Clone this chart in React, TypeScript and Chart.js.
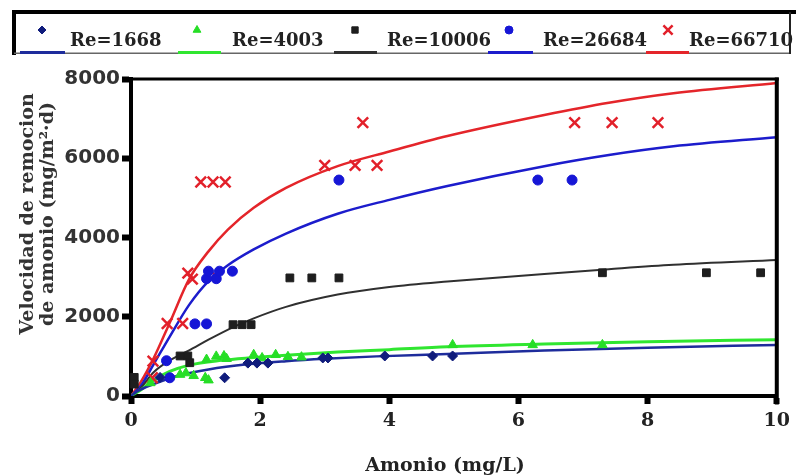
import React, { useEffect, useRef } from 'react';
import { Chart, registerables } from 'chart.js';
import { drawPoint } from 'chart.js/helpers';

Chart.register(...registerables);

// Runs, by Reynolds number
const seriesNames = ['Re=1668', 'Re=4003', 'Re=10006', 'Re=26684', 'Re=66710'];

// Measured ammonium removal rate (mg/m²·d) against ammonium concentration (mg/L)
const re1668X = [0.45, 1.45, 1.81, 1.95, 2.12, 2.97, 3.05, 3.93, 4.67, 4.98];
const re1668Y = [470, 460, 830, 830, 830, 960, 960, 1010, 1010, 1010];

const re4003X = [0.3, 0.76, 0.85, 0.97, 1.15, 1.2, 1.17, 1.32, 1.44, 1.48, 1.9, 2.03, 2.24, 2.43, 2.64, 4.98, 6.22, 7.3];
const re4003Y = [330, 540, 580, 510, 460, 400, 920, 1000, 1010, 940, 1040, 960, 1040, 990, 980, 1290, 1290, 1290];

const re10006X = [0.05, 0.05, 0.76, 0.88, 0.91, 1.58, 1.72, 1.86, 2.46, 2.8, 3.22, 7.3, 8.91, 9.75];
const re10006Y = [470, 300, 1010, 1010, 840, 1800, 1800, 1800, 2980, 2980, 2980, 3110, 3110, 3110];

const re26684X = [0.55, 0.6, 0.99, 1.17, 1.17, 1.32, 1.2, 1.37, 1.57, 3.22, 6.3, 6.83];
const re26684Y = [890, 460, 1820, 1820, 2960, 2960, 3150, 3150, 3150, 5450, 5450, 5450];

const re66710X = [0.33, 0.34, 0.56, 0.8, 0.88, 0.95, 1.3, 1.08, 1.27, 1.46, 3.0, 3.47, 3.81, 3.59, 6.87, 7.45, 8.16];
const re66710Y = [460, 880, 1830, 1830, 3100, 2950, 3050, 5400, 5400, 5400, 5820, 5820, 5820, 6900, 6900, 6900, 6900];

// Fitted kinetic curves, one per run
const fit1668X = [0, 0.1, 0.35, 0.7, 1.2, 1.8, 2.4, 3, 3.8, 4.9, 6.4, 8, 10];
const fit1668Y = [0, 120, 300, 500, 670, 800, 880, 940, 1000, 1060, 1150, 1220, 1290];

const fit4003X = [0, 0.15, 0.35, 0.6, 0.9, 1.4, 1.9, 2.4, 3.2, 4, 4.9, 6.4, 8, 10];
const fit4003Y = [0, 150, 400, 620, 780, 900, 970, 1030, 1110, 1170, 1240, 1310, 1370, 1420];

const fit10006X = [0, 0.15, 0.35, 0.6, 0.9, 1.2, 1.6, 1.9, 2.4, 3.2, 4, 4.9, 6.4, 7.4, 8.4, 10];
const fit10006Y = [0, 200, 600, 900, 1150, 1420, 1750, 1960, 2250, 2560, 2750, 2890, 3080, 3200, 3310, 3430];

const fit26684X = [0, 0.15, 0.35, 0.6, 0.9, 1.2, 1.5, 1.9, 2.4, 3.2, 4, 4.9, 6.4, 7.4, 8.4, 10];
const fit26684Y = [0, 250, 800, 1500, 2300, 2900, 3300, 3700, 4100, 4600, 4950, 5300, 5800, 6080, 6300, 6530];

const fit66710X = [0, 0.15, 0.35, 0.6, 0.9, 1.2, 1.5, 1.9, 2.4, 3.2, 4, 4.9, 6.4, 7.4, 8.4, 10];
const fit66710Y = [0, 350, 950, 1850, 2950, 3650, 4200, 4750, 5250, 5800, 6170, 6560, 7090, 7400, 7640, 7900];

// Axis ticks
const xTicks = [0, 2, 4, 6, 8, 10];
const yTicks = [0, 2000, 4000, 6000, 8000];

const xTitle = 'Amonio (mg/L)';
const yTitle = ['Velocidad de remocion', 'de amonio (mg/m²·d)'];

const pointsX = [re1668X, re4003X, re10006X, re26684X, re66710X];
const pointsY = [re1668Y, re4003Y, re10006Y, re26684Y, re66710Y];
const curvesX = [fit1668X, fit4003X, fit10006X, fit26684X, fit66710X];
const curvesY = [fit1668Y, fit4003Y, fit10006Y, fit26684Y, fit66710Y];

type Style = {
  pointStyle: string;
  radius: number;
  marker: string;
  line: string;
  borderWidth: number;
  lineWidth: number;
};

const styles: Style[] = [
  { pointStyle: 'rectRot', radius: 5, marker: '#101c7c', line: '#1e2c9c', borderWidth: 1, lineWidth: 2.5 },
  { pointStyle: 'triangle', radius: 5.5, marker: '#26de26', line: '#30e630', borderWidth: 1, lineWidth: 3 },
  { pointStyle: 'rect', radius: 5.5, marker: '#1e1e1e', line: '#303030', borderWidth: 1, lineWidth: 2 },
  { pointStyle: 'circle', radius: 5, marker: '#1616d6', line: '#1c1ccc', borderWidth: 1, lineWidth: 2.5 },
  { pointStyle: 'crossRot', radius: 7.5, marker: '#e2202a', line: '#e4252a', borderWidth: 2.5, lineWidth: 2.5 },
];

// Legend slot geometry: marker centre, text start, sample line span
const legendSlots = [
  { marker: 42, text: 70, line: [20, 65] },
  { marker: 197, text: 232, line: [178, 221] },
  { marker: 355, text: 387, line: [334, 377] },
  { marker: 509, text: 543, line: [488, 533] },
  { marker: 668, text: 689, line: [646, 689] },
];

const zip = (xs: number[], ys: number[]) => xs.map((x, i) => ({ x, y: ys[i] }));

const serif = '"DejaVu Serif", "Liberation Serif", serif';
const sans = '"DejaVu Sans", "Liberation Sans", sans-serif';

const decorations = {
  id: 'decorations',
  beforeDraw(chart: any) {
    const { ctx, width, height } = chart;
    ctx.save();
    ctx.fillStyle = '#ffffff';
    ctx.fillRect(0, 0, width, height);
    ctx.restore();
  },
  afterDraw(chart: any) {
    const { ctx, chartArea } = chart;
    ctx.save();

    // closing frame: top and right edges
    ctx.fillStyle = '#000';
    ctx.fillRect(chartArea.left - 2, chartArea.top - 1.5, chartArea.right - chartArea.left + 4, 3);
    ctx.fillRect(chartArea.right - 2, chartArea.top - 1.5, 4, chartArea.bottom - chartArea.top + 10);

    // legend box
    ctx.fillStyle = '#000';
    ctx.fillRect(12, 10, 796 - 12, 4);
    ctx.fillRect(12, 10, 4, 45);
    ctx.fillStyle = '#666';
    ctx.fillRect(14, 52.5, 777, 1.5);
    ctx.fillStyle = '#222';
    ctx.fillRect(789, 12, 2, 42);

    seriesNames.forEach((name, i) => {
      const s = styles[i];
      const slot = legendSlots[i];
      ctx.strokeStyle = s.line;
      ctx.lineWidth = 3;
      ctx.beginPath();
      ctx.moveTo(slot.line[0], 52.5);
      ctx.lineTo(slot.line[1], 52.5);
      ctx.stroke();

      ctx.fillStyle = s.marker;
      ctx.strokeStyle = s.marker;
      ctx.lineWidth = s.borderWidth;
      drawPoint(ctx, { pointStyle: s.pointStyle, radius: s.radius - 1, rotation: 0, borderWidth: s.borderWidth } as any, slot.marker, 30);

      ctx.fillStyle = '#222';
      ctx.font = `bold 18px ${serif}`;
      ctx.textAlign = 'left';
      ctx.textBaseline = 'alphabetic';
      ctx.fillText(name, slot.text, 46);
    });

    // axis titles
    ctx.fillStyle = '#333';
    ctx.font = `bold 19px ${serif}`;
    ctx.textAlign = 'center';
    ctx.textBaseline = 'middle';
    ctx.save();
    ctx.translate(28, 214);
    ctx.rotate(-Math.PI / 2);
    ctx.fillText(yTitle[0], 0, 0);
    ctx.fillText(yTitle[1], 0, 20);
    ctx.restore();

    ctx.fillStyle = '#222';
    ctx.fillText(xTitle, 445, 466);
    ctx.restore();
  },
};

export default function App() {
  const canvasRef = useRef<HTMLCanvasElement | null>(null);

  useEffect(() => {
    const canvas = canvasRef.current;
    if (!canvas) return;

    const curveSets = curvesX.map((xs, i) => ({
      label: seriesNames[i] + ' ajuste',
      data: zip(xs, curvesY[i]),
      showLine: true,
      borderColor: styles[i].line,
      borderWidth: styles[i].lineWidth,
      pointRadius: 0,
      pointHoverRadius: 0,
      tension: 0.4,
      cubicInterpolationMode: 'monotone',
      fill: false,
      order: 1,
    }));

    const pointSets = pointsX.map((xs, i) => ({
      label: seriesNames[i],
      data: zip(xs, pointsY[i]),
      showLine: false,
      pointStyle: styles[i].pointStyle,
      pointRadius: styles[i].radius,
      pointBackgroundColor: styles[i].marker,
      pointBorderColor: styles[i].marker,
      pointBorderWidth: styles[i].borderWidth,
      clip: false,
      order: 0,
    }));

    const chart = new Chart(canvas, {
      type: 'scatter',
      data: { datasets: [...pointSets, ...curveSets] as any },
      plugins: [decorations],
      options: {
        animation: false,
        responsive: false,
        devicePixelRatio: 1,
        layout: { padding: { top: 79, right: 19, left: 0, bottom: 0 } },
        plugins: {
          legend: { display: false },
          title: { display: false },
          tooltip: { enabled: false },
        },
        scales: {
          x: {
            type: 'linear',
            min: 0,
            max: 10,
            afterBuildTicks: (scale: any) => {
              scale.ticks = xTicks.map((v) => ({ value: v }));
            },
            afterFit: (scale: any) => {
              scale.height = 79;
            },
            grid: {
              drawOnChartArea: false,
              drawTicks: true,
              tickLength: 8,
              tickWidth: 6,
              color: '#000',
            },
            border: { display: true, color: '#000', width: 4 },
            ticks: {
              padding: 6,
              color: '#222',
              maxRotation: 0,
              callback: (v: any) => String(v),
              font: { family: serif, size: 19, weight: 'bold' },
            },
          },
          y: {
            type: 'linear',
            min: 0,
            max: 8000,
            afterBuildTicks: (scale: any) => {
              scale.ticks = yTicks.map((v) => ({ value: v }));
            },
            afterFit: (scale: any) => {
              scale.width = 131;
            },
            grid: {
              drawOnChartArea: false,
              drawTicks: true,
              tickLength: 9,
              tickWidth: 6,
              color: '#000',
            },
            border: { display: true, color: '#000', width: 4 },
            ticks: {
              padding: 2,
              color: '#333',
              callback: (v: any) => String(v),
              font: { family: sans, size: 20, weight: 'bold' },
            },
          },
        },
      } as any,
    });

    return () => chart.destroy();
  }, []);

  return (
    <div style={{ position: 'fixed', left: 0, top: 0, width: 796, height: 475, background: '#fff' }}>
      <canvas ref={canvasRef} width={796} height={475} style={{ display: 'block' }} />
    </div>
  );
}
